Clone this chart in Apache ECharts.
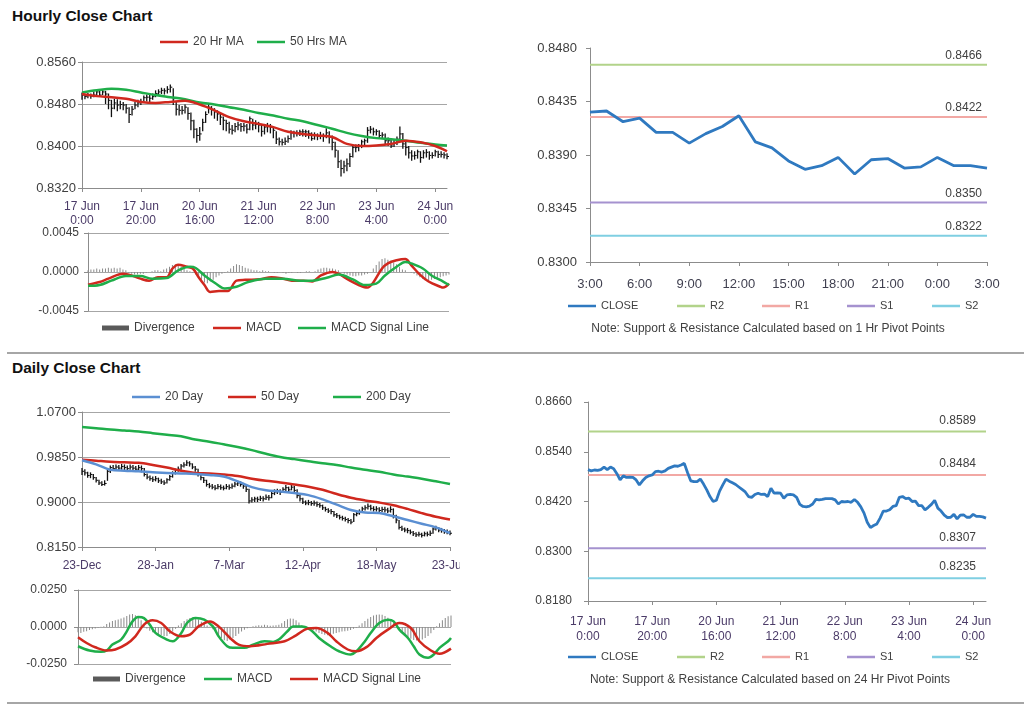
<!DOCTYPE html>
<html><head><meta charset="utf-8">
<script src="https://cdn.jsdelivr.net/npm/echarts@6/dist/echarts.min.js"></script>
<style>
html,body{margin:0;padding:0;background:#fff;width:1024px;height:706px;overflow:hidden;font-family:"Liberation Sans",Arial,sans-serif;}
.c{position:absolute;left:0;top:0;width:1024px;height:706px;}
.t{position:absolute;left:12px;font-weight:bold;font-size:15.5px;line-height:16px;color:#111;white-space:nowrap;}
.sep{position:absolute;left:7px;width:1017px;height:2px;background:#a6a6a6;}
.note{position:absolute;width:400px;text-align:center;font-size:12px;line-height:14px;color:#404040;white-space:nowrap;}
</style></head><body>
<div class="t" style="top:8px">Hourly Close Chart</div>
<div class="t" style="top:360px">Daily Close Chart</div>
<div class="sep" style="top:352px"></div>
<div class="sep" style="top:702px"></div>
<div id="pA" class="c"></div>
<div id="pB" class="c"></div>
<div id="pC" class="c"></div>
<div id="pD" class="c" style="width:460px"></div>
<div id="pE" class="c"></div>
<div id="pF" class="c"></div>
<div class="note" style="left:568px;top:321px">Note: Support &amp; Resistance Calculated based on 1 Hr Pivot Points</div>
<div class="note" style="left:570px;top:672px">Note: Support &amp; Resistance Calculated based on 24 Hr Pivot Points</div>
<script>
// ---------------- DATA ----------------
const hrTickLabels = ['17 Jun\n0:00','17 Jun\n20:00','20 Jun\n16:00','21 Jun\n12:00','22 Jun\n8:00','23 Jun\n4:00','24 Jun\n0:00'];
const hrClose = [0.8497,0.8494,0.8496,0.8495,0.8497,0.8503,0.8497,0.8503,0.8499,0.8487,
 0.8472,0.8482,0.8478,0.8479,0.8478,0.8472,0.8460,0.8470,0.8478,0.8482,
 0.8484,0.8492,0.8493,0.8491,0.8494,0.8500,0.8503,0.8506,0.8505,0.8508,
 0.8512,0.8490,0.8470,0.8468,0.8468,0.8474,0.8462,0.8448,0.8432,0.8420,
 0.8423,0.8445,0.8460,0.8474,0.8469,0.8465,0.8461,0.8455,0.8449,0.8443,
 0.8432,0.8430,0.8437,0.8440,0.8437,0.8438,0.8432,0.8452,0.8440,0.8441,
 0.8440,0.8428,0.8436,0.8437,0.8436,0.8430,0.8413,0.8408,0.8407,0.8409,
 0.8414,0.8425,0.8424,0.8425,0.8427,0.8427,0.8427,0.8424,0.8414,0.8420,
 0.8419,0.8420,0.8418,0.8425,0.8418,0.8407,0.8392,0.8370,0.8357,0.8362,
 0.8366,0.8380,0.8397,0.8397,0.8400,0.8408,0.8410,0.8430,0.8432,0.8427,
 0.8428,0.8420,0.8421,0.8410,0.8410,0.8400,0.8406,0.8413,0.8423,0.8404,
 0.8397,0.8387,0.8381,0.8382,0.8389,0.8378,0.8387,0.8388,0.8382,0.8382,
 0.8389,0.8384,0.8384,0.8383,0.8380];
const hrHigh = [0.8502,0.8499,0.8501,0.8500,0.8504,0.8507,0.8505,0.8508,0.8505,0.8500,
 0.8488,0.8490,0.8489,0.8486,0.8484,0.8480,0.8474,0.8476,0.8484,0.8488,
 0.8490,0.8496,0.8498,0.8497,0.8500,0.8506,0.8508,0.8511,0.8510,0.8514,
 0.8517,0.8510,0.8484,0.8478,0.8476,0.8479,0.8474,0.8464,0.8450,0.8434,
 0.8436,0.8452,0.8466,0.8480,0.8476,0.8472,0.8468,0.8462,0.8456,0.8450,
 0.8446,0.8440,0.8444,0.8446,0.8444,0.8444,0.8442,0.8456,0.8452,0.8449,
 0.8446,0.8442,0.8442,0.8444,0.8442,0.8438,0.8428,0.8416,0.8414,0.8416,
 0.8420,0.8430,0.8429,0.8430,0.8431,0.8432,0.8431,0.8430,0.8426,0.8426,
 0.8424,0.8427,0.8424,0.8434,0.8428,0.8420,0.8408,0.8392,0.8374,0.8372,
 0.8376,0.8386,0.8402,0.8403,0.8404,0.8412,0.8414,0.8436,0.8438,0.8435,
 0.8432,0.8430,0.8426,0.8424,0.8416,0.8414,0.8412,0.8418,0.8437,0.8425,
 0.8408,0.8400,0.8392,0.8390,0.8393,0.8390,0.8392,0.8394,0.8390,0.8388,
 0.8393,0.8391,0.8390,0.8388,0.8386];
const hrLow = [0.8488,0.8489,0.8491,0.8490,0.8493,0.8496,0.8494,0.8497,0.8480,0.8470,
 0.8455,0.8470,0.8466,0.8470,0.8468,0.8462,0.8444,0.8458,0.8470,0.8474,
 0.8478,0.8482,0.8485,0.8484,0.8488,0.8493,0.8496,0.8499,0.8498,0.8500,
 0.8502,0.8478,0.8458,0.8458,0.8460,0.8462,0.8450,0.8430,0.8415,0.8406,
 0.8410,0.8428,0.8444,0.8462,0.8458,0.8452,0.8448,0.8440,0.8430,0.8428,
 0.8424,0.8422,0.8426,0.8430,0.8427,0.8428,0.8424,0.8430,0.8430,0.8432,
 0.8426,0.8418,0.8422,0.8426,0.8424,0.8415,0.8404,0.8401,0.8401,0.8402,
 0.8406,0.8412,0.8416,0.8418,0.8419,0.8418,0.8417,0.8414,0.8410,0.8412,
 0.8411,0.8413,0.8408,0.8415,0.8405,0.8392,0.8378,0.8358,0.8342,0.8348,
 0.8352,0.8360,0.8378,0.8388,0.8390,0.8396,0.8400,0.8406,0.8424,0.8420,
 0.8420,0.8415,0.8414,0.8403,0.8400,0.8396,0.8398,0.8402,0.8410,0.8395,
 0.8382,0.8376,0.8372,0.8374,0.8376,0.8368,0.8376,0.8378,0.8374,0.8376,
 0.8380,0.8377,0.8378,0.8376,0.8375];
const hrMA20 = [[0,0.8499],[5,0.8495],[10,0.8493],[15,0.8490],[20,0.8484],[25,0.8482],[30,0.8484],[35,0.8486],[40,0.8479],[45,0.8468],[50,0.8455],[55,0.8447],[60,0.8442],[65,0.8436],[70,0.8427],[75,0.8423],[80,0.8420],[85,0.8417],[90,0.8404],[95,0.8400],[100,0.8401],[105,0.8404],[110,0.8410],[115,0.8407],[120,0.8400],[124,0.8390]];
const hrMA50 = [[0,0.8502],[5,0.8506],[10,0.8509],[15,0.8507],[20,0.8502],[25,0.8497],[30,0.8493],[35,0.8489],[40,0.8483],[45,0.8479],[50,0.8474],[55,0.8469],[60,0.8463],[65,0.8458],[70,0.8452],[75,0.8447],[80,0.8440],[85,0.8433],[90,0.8425],[95,0.8419],[100,0.8415],[105,0.8413],[110,0.8410],[115,0.8406],[120,0.8403],[124,0.8401]];
const hrDiv = [0.0002,0.0003,0.0003,0.0004,0.0003,0.0004,0.0004,0.0005,0.0004,0.0005,0.0004,0.0005,0.0003,0.0002,
 -0.0001,-0.0002,-0.0003,-0.0003,-0.0002,-0.0002,-0.0001,0.0000,
 0.0001,0.0002,0.0002,0.0001,0.0003,0.0004,
 0.0006,0.0008,0.0009,0.0008,0.0006,0.0004,0.0002,
 0.0001,-0.0001,-0.0003,
 -0.0006,-0.0009,-0.0012,-0.0013,-0.0011,-0.0009,-0.0006,-0.0004,-0.0002,-0.0001,0.0001,
 0.0004,0.0007,0.0009,0.0008,0.0007,0.0005,0.0004,0.0003,
 0.0002,0.0002,0.0001,0.0002,0.0001,0.0001,0.0000,
 -0.0001,-0.0001,0.0000,-0.0001,-0.0002,-0.0001,-0.0001,0.0000,-0.0001,-0.0001,0.0000,0.0001,0.0001,0.0000,0.0001,
 0.0003,0.0004,0.0005,0.0005,0.0004,0.0004,0.0003,0.0002,0.0000,
 -0.0002,-0.0003,-0.0004,-0.0005,-0.0005,-0.0004,-0.0004,-0.0003,-0.0002,0.0000,
 0.0004,0.0008,0.0012,0.0015,0.0016,0.0014,0.0013,0.0011,0.0009,0.0006,0.0003,
 0.0002,0.0000,-0.0001,-0.0002,
 -0.0004,-0.0006,-0.0008,-0.0009,-0.0010,-0.0009,-0.0008,-0.0007,-0.0006,-0.0005,-0.0004,-0.0003];
const hrMacd = [[0,-0.00147],[4,-0.00116],[7,-0.00077],[12,-0.0002],[14,-0.0003],[18,-0.00077],[21,-0.0010],[24,-0.0006],[27,-0.0006],[29,0.0004],[31,0.00085],[34,0.0006],[36,0.0004],[38,-0.0006],[40,-0.0015],[42,-0.0023],[45,-0.0022],[48,-0.0022],[51,-0.0010],[54,-0.0009],[59,-0.00085],[63,-0.0006],[67,-0.00077],[70,-0.0010],[74,-0.0010],[77,-0.0011],[80,-0.0004],[84,0.0000],[86,-0.0002],[90,-0.0010],[93,-0.0015],[96,-0.0018],[98,-0.0012],[101,0.0004],[103,0.0010],[106,0.00135],[109,0.0015],[111,0.0008],[114,-0.0003],[117,-0.0011],[121,-0.0017],[122,-0.0018],[124,-0.00135]];
const hrSignal = [[0,-0.0016],[4,-0.0015],[8,-0.0010],[13,-0.00046],[18,-0.00046],[22,-0.00077],[27,-0.0007],[31,0.0002],[35,0.0006],[37,0.00046],[40,-0.0004],[44,-0.00135],[47,-0.0019],[51,-0.0017],[55,-0.00116],[61,-0.00077],[67,-0.00077],[73,-0.0010],[77,-0.0010],[82,-0.00066],[86,-0.0003],[91,-0.00085],[95,-0.0015],[99,-0.00135],[102,-0.0004],[106,0.0006],[109,0.00116],[111,0.0010],[115,0.0004],[118,-0.0004],[122,-0.0011],[124,-0.0015]];
const hrPriceTicks = [0.8320,0.8400,0.8480,0.8560];
const hrMacdTicks = [-0.0045,0,0.0045];

const pvHrTimes = ['3:00','4:00','5:00','6:00','7:00','8:00','9:00','10:00','11:00','12:00','13:00','14:00','15:00','16:00','17:00','18:00','19:00','20:00','21:00','22:00','23:00','0:00','1:00','2:00','3:00'];
const pvHrClose = [0.8426,0.8427,0.8418,0.8421,0.8409,0.8409,0.8400,0.8408,0.8414,0.8423,0.8401,0.8396,0.8385,0.8378,0.8381,0.8388,0.8374,0.8386,0.8387,0.8379,0.8380,0.8388,0.8381,0.8381,0.8379];
const pvHrLevels = {R2:0.8466, R1:0.8422, S1:0.8350, S2:0.8322};
const pvHrTicks = [0.8300,0.8345,0.8390,0.8435,0.8480];

const pvDayLevels = {R2:0.8589, R1:0.8484, S1:0.8307, S2:0.8235};
const pvDayTicks = [0.8180,0.8300,0.8420,0.8540,0.8660];

const dTickLabels = ['23-Dec','28-Jan','7-Mar','12-Apr','18-May','23-Jun'];
const dClose = [0.958,0.955,0.950,0.952,0.946,0.941,0.936,0.933,0.935,0.958,
 0.965,0.963,0.966,0.964,0.967,0.965,0.963,0.966,0.964,0.962,
 0.965,0.963,0.952,0.947,0.944,0.942,0.944,0.940,0.938,0.936,
 0.942,0.948,0.955,0.960,0.962,0.968,0.970,0.974,0.972,0.966,
 0.962,0.952,0.946,0.941,0.933,0.930,0.928,0.926,0.929,0.927,
 0.926,0.929,0.927,0.930,0.934,0.936,0.933,0.930,0.924,0.902,
 0.904,0.906,0.905,0.907,0.906,0.909,0.908,0.916,0.919,0.921,
 0.918,0.924,0.927,0.923,0.928,0.922,0.912,0.906,0.900,0.898,
 0.899,0.897,0.898,0.895,0.893,0.889,0.886,0.883,0.882,0.876,
 0.874,0.871,0.869,0.867,0.865,0.862,0.876,0.878,0.882,0.887,
 0.889,0.892,0.888,0.886,0.887,0.884,0.886,0.885,0.883,0.886,
 0.874,0.866,0.852,0.849,0.847,0.846,0.843,0.840,0.838,0.839,
 0.837,0.840,0.839,0.841,0.849,0.851,0.847,0.846,0.844,0.843,
 0.841];
const dHigh = [0.964,0.962,0.957,0.956,0.953,0.947,0.942,0.939,0.941,0.962,
 0.969,0.970,0.971,0.970,0.972,0.971,0.969,0.971,0.970,0.968,
 0.970,0.969,0.964,0.954,0.950,0.948,0.949,0.946,0.944,0.941,
 0.945,0.951,0.958,0.963,0.967,0.972,0.975,0.979,0.977,0.973,
 0.968,0.963,0.953,0.947,0.942,0.936,0.934,0.932,0.934,0.933,
 0.931,0.934,0.933,0.935,0.938,0.940,0.939,0.936,0.932,0.925,
 0.909,0.910,0.910,0.912,0.911,0.914,0.913,0.920,0.924,0.925,
 0.924,0.928,0.932,0.929,0.933,0.930,0.924,0.914,0.908,0.903,
 0.904,0.902,0.903,0.901,0.898,0.895,0.891,0.888,0.887,0.883,
 0.879,0.876,0.874,0.872,0.870,0.868,0.879,0.883,0.886,0.891,
 0.894,0.897,0.895,0.892,0.892,0.890,0.891,0.891,0.889,0.892,
 0.888,0.876,0.866,0.855,0.852,0.851,0.848,0.845,0.843,0.844,
 0.842,0.844,0.844,0.846,0.852,0.855,0.853,0.851,0.849,0.848,
 0.846];
const dLow = [0.951,0.950,0.946,0.945,0.942,0.937,0.932,0.930,0.931,0.940,
 0.955,0.959,0.960,0.960,0.961,0.960,0.959,0.961,0.959,0.958,
 0.960,0.956,0.948,0.943,0.940,0.938,0.939,0.936,0.934,0.932,
 0.935,0.940,0.946,0.952,0.957,0.961,0.965,0.968,0.967,0.962,
 0.957,0.948,0.941,0.936,0.929,0.926,0.924,0.922,0.924,0.923,
 0.922,0.924,0.923,0.925,0.928,0.930,0.929,0.925,0.919,0.897,
 0.899,0.900,0.900,0.902,0.901,0.904,0.903,0.907,0.913,0.915,
 0.913,0.917,0.921,0.919,0.922,0.917,0.907,0.901,0.896,0.894,
 0.894,0.893,0.893,0.891,0.889,0.885,0.882,0.879,0.877,0.872,
 0.870,0.867,0.865,0.863,0.860,0.858,0.862,0.873,0.876,0.881,
 0.884,0.886,0.884,0.882,0.882,0.880,0.881,0.880,0.879,0.880,
 0.869,0.860,0.848,0.845,0.843,0.841,0.839,0.836,0.834,0.835,
 0.833,0.835,0.835,0.836,0.840,0.846,0.843,0.842,0.840,0.839,
 0.837];
const dMA20 = [[0,0.979],[5,0.971],[10,0.961],[15,0.959],[20,0.958],[25,0.956],[30,0.955],[35,0.954],[40,0.953],[45,0.951],[50,0.948],[55,0.939],[60,0.928],[65,0.922],[70,0.920],[75,0.917],[80,0.913],[85,0.905],[90,0.895],[95,0.885],[100,0.880],[105,0.879],[110,0.873],[115,0.866],[120,0.859],[125,0.852],[130,0.841]];
const dMA50 = [[0,0.980],[5,0.978],[10,0.976],[15,0.975],[20,0.974],[25,0.970],[30,0.965],[35,0.959],[40,0.955],[45,0.954],[50,0.952],[55,0.949],[60,0.944],[65,0.940],[70,0.937],[75,0.933],[80,0.929],[85,0.923],[90,0.915],[95,0.908],[100,0.903],[105,0.899],[110,0.894],[115,0.887],[120,0.879],[125,0.872],[130,0.867]];
const dMA200 = [[0,1.0418],[5,1.0395],[10,1.037],[15,1.035],[20,1.033],[25,1.030],[30,1.027],[35,1.024],[40,1.018],[45,1.014],[50,1.009],[55,1.004],[60,0.998],[65,0.991],[70,0.985],[75,0.981],[80,0.977],[85,0.973],[90,0.970],[95,0.965],[100,0.961],[105,0.957],[110,0.952],[115,0.948],[120,0.944],[125,0.939],[130,0.934]];
const dDiv = [-0.0035,-0.0040,-0.0032,-0.0028,-0.0020,-0.0015,-0.0010,-0.0005,
 0.0002,0.0005,
 0.0020,0.0030,0.0040,0.0045,0.0050,0.0058,0.0065,0.0075,0.0085,0.0088,0.0080,
 0.0065,0.0045,0.0020,
 -0.0010,-0.0025,-0.0035,-0.0042,-0.0050,-0.0055,-0.0062,-0.0060,-0.0048,-0.0030,-0.0012,
 0.0010,0.0025,0.0040,0.0052,0.0060,0.0066,0.0062,0.0050,0.0035,0.0022,0.0010,0.0002,
 -0.0015,-0.0035,-0.0055,-0.0075,-0.0090,-0.0095,-0.0088,-0.0075,-0.0060,-0.0045,-0.0030,-0.0018,-0.0008,-0.0002,
 0.0005,0.0008,0.0012,0.0010,0.0015,0.0012,0.0008,0.0010,0.0012,0.0015,
 0.0025,0.0040,0.0052,0.0058,0.0055,0.0045,0.0030,0.0012,
 0.0003,-0.0005,-0.0012,-0.0020,
 -0.0030,-0.0040,-0.0048,-0.0052,-0.0055,-0.0050,-0.0045,-0.0040,-0.0035,-0.0030,-0.0028,-0.0025,-0.0020,-0.0012,-0.0005,
 0.0010,0.0025,0.0040,0.0055,0.0068,0.0078,0.0083,0.0085,0.0082,0.0075,0.0062,0.0045,0.0028,0.0010,
 -0.0015,-0.0035,-0.0055,-0.0070,-0.0080,-0.0088,-0.0092,-0.0090,-0.0085,-0.0075,-0.0060,-0.0042,-0.0020,
 0.0005,0.0025,0.0045,0.0060,0.0072,0.0078];
const dMacd = [[0,-0.013],[4,-0.0159],[8,-0.0168],[10,-0.0159],[12,-0.0119],[15,-0.0085],[17,-0.0029],[19,0.0038],[21,0.0067],[23,0.006],[25,0.0016],[27,-0.004],[31,-0.0085],[33,-0.0096],[36,-0.004],[38,0.0027],[41,0.006],[44,0.0049],[47,0.0004],[49,-0.0063],[52,-0.013],[54,-0.0141],[58,-0.0141],[61,-0.0119],[65,-0.0096],[68,-0.0101],[70,-0.0085],[73,-0.0029],[75,0.0004],[78,0.0004],[81,-0.0018],[84,-0.0074],[88,-0.013],[91,-0.0164],[95,-0.0186],[97,-0.0164],[100,-0.0096],[102,-0.004],[105,0.0027],[108,0.0049],[110,0.0038],[112,-0.0018],[115,-0.0074],[117,-0.013],[119,-0.0186],[122,-0.0208],[124,-0.0186],[126,-0.0141],[129,-0.0096],[130,-0.0074]];
const dSignal = [[0,-0.0069],[3,-0.0108],[6,-0.0137],[10,-0.0159],[13,-0.0152],[17,-0.0114],[20,-0.0063],[23,0.0016],[26,0.0045],[29,0.0027],[32,-0.0029],[36,-0.0063],[39,-0.0052],[42,0.0004],[46,0.0038],[49,0.0004],[53,-0.0074],[56,-0.0119],[60,-0.013],[66,-0.0114],[72,-0.0096],[76,-0.0056],[80,-0.0011],[83,-0.0007],[87,-0.004],[90,-0.0096],[94,-0.0152],[97,-0.0164],[101,-0.013],[104,-0.0074],[108,-0.0018],[112,0.0027],[116,-0.0007],[119,-0.0096],[123,-0.0159],[126,-0.0181],[130,-0.0146]];
const dPriceTicks = [0.8150,0.9000,0.9850,1.0700];
const dMacdTicks = [-0.025,0,0.025];

// ---------------- STYLE ----------------
const FONT = '"Liberation Sans", Arial, sans-serif';
const AX = '#8c8c8c', GRIDC = '#a6a6a6', YLAB = '#404040', XLAB = '#4b3b68', LEG = '#404040';
const RED = '#d0281e', GREEN = '#1fae4a', LBLUE = '#5b8fd2', CBLUE = '#2f79c0';
const PIV = {R2:'#b2d38a', R1:'#f2a8a4', S1:'#a592cf', S2:'#7fcfe2'};

const hrCats = hrClose.map((_, i) => i % 20 === 0 ? hrTickLabels[i / 20] : '');
const dCats = dClose.map((_, i) => i % 26 === 0 ? dTickLabels[i / 26] : '');

function fmt4(v){ return (Math.abs(v) < 1e-9 ? 0 : v).toFixed(4); }
function yAx(ticks, fs, margin, grid){
  return {type:'value', min:ticks[0], max:ticks[ticks.length-1],
    axisLine:{show:true, lineStyle:{color:AX}},
    axisTick:{show:true, length:4, customValues:ticks, lineStyle:{color:AX}},
    axisLabel:{customValues:ticks, formatter:fmt4, color:YLAB, fontSize:fs, margin:margin, fontFamily:FONT},
    splitLine:{show:grid, lineStyle:{color:GRIDC, width:1}}};
}
function xCat(data, interval, o){
  o = o || {};
  return {type:'category', data:data, boundaryGap:false,
    axisLine:{show:o.hide ? false : true, onZero:false, lineStyle:{color:AX}},
    axisTick:{show:!o.hide, interval:interval, length:4, lineStyle:{color:AX}},
    axisLabel:{show:!o.hide, interval:interval, color:o.color||XLAB, fontSize:o.fs||12, lineHeight:o.lh||14, margin:o.margin||12, fontFamily:FONT},
    splitLine:{show:false}};
}
function lg(item, left, center, fs, opt){
  const h = (opt && opt.h) || 2.5;
  return {data:[item], left:left, top:center - (fs === 11 ? 6.5 : 7), padding:0, itemGap:0, icon:'rect',
    itemWidth:(opt && opt.w) || 28, itemHeight:h, selectedMode:false,
    textStyle:{fontSize:fs, color:LEG, fontFamily:FONT}};
}
function line(name, data, color, w, z){
  return {name:name, type:'line', data:data, symbol:'none', smooth:0.35, z:z||3,
    lineStyle:{color:color, width:w||2.5}, itemStyle:{color:color}};
}
function ohlc(close, high, low){
  return {type:'custom', z:1, silent:true,
    data: close.map((c, i) => [i, c, high[i], low[i]]),
    encode:{x:0, y:[1,2,3]},
    renderItem:function(params, api){
      const x = api.value(0);
      const pc = api.coord([x, api.value(1)]);
      const ph = api.coord([x, api.value(2)]);
      const pl = api.coord([x, api.value(3)]);
      return {type:'group', children:[
        {type:'line', shape:{x1:pc[0], y1:ph[1], x2:pc[0], y2:pl[1]}, style:{stroke:'#111', lineWidth:1.3}},
        {type:'line', shape:{x1:pc[0], y1:pc[1], x2:pc[0]+2, y2:pc[1]}, style:{stroke:'#111', lineWidth:1}}
      ]};
    }};
}
function pivot(name, value, n, dx, dist){
  return {name:name, type:'line', symbol:'circle', symbolSize:0.1, showSymbol:true, silent:true, z:2,
    lineStyle:{color:PIV[name], width:2}, itemStyle:{color:PIV[name]},
    data:[[0, value], {value:[n - 1, value],
      label:{show:true, position:'top', align:'right', distance:dist, offset:[dx, 0],
        formatter:value.toFixed(4), color:YLAB, fontSize:12, fontFamily:FONT}}]};
}
function mk(id, opt){
  const ch = echarts.init(document.getElementById(id), null, {renderer:'canvas'});
  opt.animation = false;
  opt.textStyle = {fontFamily:FONT};
  ch.setOption(opt);
}

// Panel A: hourly price with MAs
mk('pA', {
  grid:{left:82, top:62, width:365, height:126, outerBoundsMode:'none'},
  legend:[lg('20 Hr MA',160,43,12), lg('50 Hrs MA',257,43,12)],
  xAxis: xCat(hrCats, 19, {margin:12, lh:14}),
  yAxis: yAx(hrPriceTicks, 13, 6, true),
  series:[ohlc(hrClose, hrHigh, hrLow), line('50 Hrs MA', hrMA50, GREEN), line('20 Hr MA', hrMA20, RED)]
});

// Panel B: hourly MACD
mk('pB', {
  grid:{left:88, top:233, width:361, height:78, outerBoundsMode:'none'},
  legend:[lg({name:'Divergence', itemStyle:{color:'#5a5a5a'}},102,329,12,{w:27,h:5}),
          lg('MACD',213,329,12), lg('MACD Signal Line',298,329,12)],
  xAxis: xCat(hrCats, 19, {hide:true}),
  yAxis: yAx(hrMacdTicks, 12, 9, true),
  series:[{name:'Divergence', type:'bar', data:hrDiv, barWidth:1, itemStyle:{color:'#8a8a8a'}, z:1},
          line('MACD', hrMacd, RED), line('MACD Signal Line', hrSignal, GREEN)]
});

// Panel C: last 24h close with 1 Hr pivots
mk('pC', {
  grid:{left:590, top:48, width:397, height:214, outerBoundsMode:'none'},
  legend:[lg('CLOSE',568,307,11), lg('R2',677,307,11), lg('R1',762,307,11), lg('S1',847,307,11), lg('S2',932,307,11)],
  xAxis: xCat(pvHrTimes, 2, {color:'#3f3f4f', fs:13, margin:15}),
  yAxis: yAx(pvHrTicks, 13, 13, false),
  series:[pivot('R2', pvHrLevels.R2, pvHrClose.length, -5, 3), pivot('R1', pvHrLevels.R1, pvHrClose.length, -5, 3),
          pivot('S1', pvHrLevels.S1, pvHrClose.length, -5, 3), pivot('S2', pvHrLevels.S2, pvHrClose.length, -5, 3),
          Object.assign(line('CLOSE', pvHrClose, CBLUE, 2.8, 4), {smooth:false})]
});

// Panel D: daily price with MAs
mk('pD', {
  grid:{left:82, top:412, width:368, height:135, outerBoundsMode:'none'},
  legend:[lg('20 Day',132,398,12), lg('50 Day',228,398,12), lg('200 Day',333,398,12)],
  xAxis: xCat(dCats, 25, {margin:12}),
  yAxis: yAx(dPriceTicks, 13, 6, true),
  series:[ohlc(dClose, dHigh, dLow), line('200 Day', dMA200, GREEN), line('50 Day', dMA50, RED), line('20 Day', dMA20, LBLUE)]
});

// Panel E: daily MACD
mk('pE', {
  grid:{left:78, top:590, width:373, height:74, outerBoundsMode:'none'},
  legend:[lg({name:'Divergence', itemStyle:{color:'#5a5a5a'}},93,680,12,{w:27,h:5}),
          lg('MACD',204,680,12), lg('MACD Signal Line',290,680,12)],
  xAxis: xCat(dCats, 25, {hide:true}),
  yAxis: yAx(dMacdTicks, 12, 11, true),
  series:[{name:'Divergence', type:'bar', data:dDiv, barWidth:1, itemStyle:{color:'#8a8a8a'}, z:1},
          line('MACD', dMacd, GREEN), line('MACD Signal Line', dSignal, RED)]
});

// Panel F: hourly close with 24 Hr pivots
mk('pF', {
  grid:{left:588, top:402, width:398, height:199, outerBoundsMode:'none'},
  legend:[lg('CLOSE',568,658,11), lg('R2',677,658,11), lg('R1',762,658,11), lg('S1',847,658,11), lg('S2',932,658,11)],
  xAxis: xCat(hrCats, 19, {margin:13, lh:15}),
  yAxis: yAx(pvDayTicks, 12, 16, false),
  series:[pivot('R2', pvDayLevels.R2, hrClose.length, -10, 5), pivot('R1', pvDayLevels.R1, hrClose.length, -10, 5),
          pivot('S1', pvDayLevels.S1, hrClose.length, -10, 5), pivot('S2', pvDayLevels.S2, hrClose.length, -10, 5),
          Object.assign(line('CLOSE', hrClose, CBLUE, 2.8, 4), {smooth:false})]
});
</script>
</body></html>
